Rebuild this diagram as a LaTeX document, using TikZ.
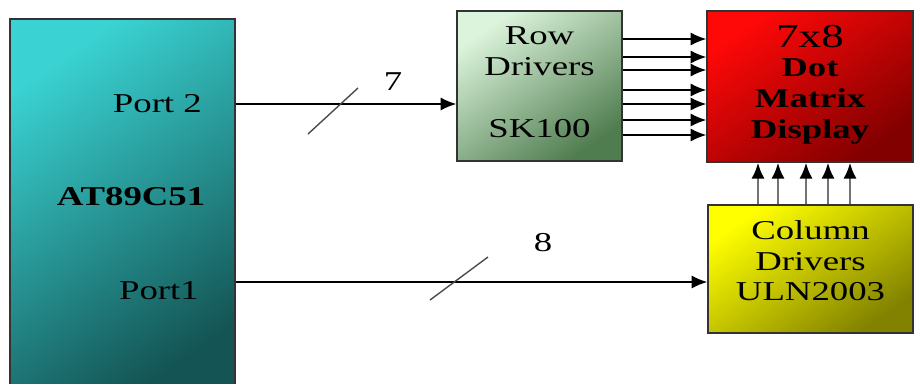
\documentclass[tikz,border=0pt]{standalone}
\usepackage{fontspec}
\setmainfont[FakeStretch=1.35]{Liberation Serif}
\usepackage{tikz}
\usetikzlibrary{arrows.meta,positioning,calc}
\usepackage{xcolor}
\definecolor{mcutop}{RGB}{58,210,210}
\definecolor{mcubot}{RGB}{20,84,84}
\definecolor{rowtop}{RGB}{220,244,220}
\definecolor{rowbot}{RGB}{80,125,80}
\definecolor{dottop}{RGB}{255,8,8}
\definecolor{dotbot}{RGB}{130,0,0}
\definecolor{coltop}{RGB}{255,255,0}
\definecolor{colbot}{RGB}{130,130,0}
\newcommand{\blockfont}{\fontsize{15.5}{17.5}\selectfont}

\begin{document}
\begin{tikzpicture}[
    x=0.02cm, y=-0.02cm,
    block/.style={rectangle, draw=black!80, line width=0.8pt, align=center,
                  font=\blockfont, inner sep=0pt},
    shade/.style 2 args={top color=#1, bottom color=#2, shading angle=35},
    arrow/.style={->, line width=0.8pt, >={Latex[length=9pt,width=7.5pt]}},
    uparrow/.style={-{Latex[length=9pt,width=7.5pt,color=black]}, line width=1.5pt, draw=black!55},
    busmark/.style={line width=0.8pt, draw=black!70}
]
\useasboundingbox (0,0) rectangle (914,383);
\clip (0,0) rectangle (914,383);

% Microcontroller
\node[block, shade={mcutop}{mcubot},
      minimum width=4.5cm, minimum height=7.6cm] (mcu) at (122.5,209) {};
\node[font=\blockfont, anchor=east] (port2) at (208,104) {Port 2};
\node[font=\blockfont\bfseries] (mcuname) at (131,197) {AT89C51};
\node[font=\blockfont, anchor=east] (port1) at (205,291) {Port1};

% Drivers and display
\node[block, shade={rowtop}{rowbot},
      minimum width=3.3cm, minimum height=3cm] (rowdrv) at (539.5,86)
      {Row\\Drivers\\[\baselineskip]SK100\\[-13pt]{}};
\node[block, shade={dottop}{dotbot},
      minimum width=4.12cm, minimum height=3.02cm] (dotmat) at (810,86.5)
      {{\fontsize{19}{19}\selectfont 7x8}\\[-1pt]\textbf{Dot}\\\textbf{Matrix}\\\textbf{Display}\\[-12pt]{}};
\node[block, shade={coltop}{colbot},
      minimum width=4.1cm, minimum height=2.56cm] (coldrv) at (810.5,269)
      {Column\\Drivers\\ULN2003\\[-8pt]{}};

% Port buses
\coordinate (p2) at (mcu.east |- 0,104);
\coordinate (p1) at (mcu.east |- 0,282);
\draw[arrow] (p2) -- (p2 -| rowdrv.west);
\draw[arrow] (p1) -- (p1 -| coldrv.west);

% Bus width marks
\draw[busmark] (308,134) -- (358,88);
\node[font=\blockfont] (w7) at (393,82) {7};
\draw[busmark] (430,300) -- (488,257);
\node[font=\blockfont] (w8) at (543,243) {8};

% Row lines
\foreach \y in {39,57,70,90,104,120,135}
    \draw[arrow] (rowdrv.east |- 0,\y) -- (dotmat.west |- 0,\y);

% Column lines
\foreach \x in {758,778,806,828,850}
    \draw[uparrow] (coldrv.north -| \x,0) -- (dotmat.south -| \x,0);

\end{tikzpicture}
\end{document}
